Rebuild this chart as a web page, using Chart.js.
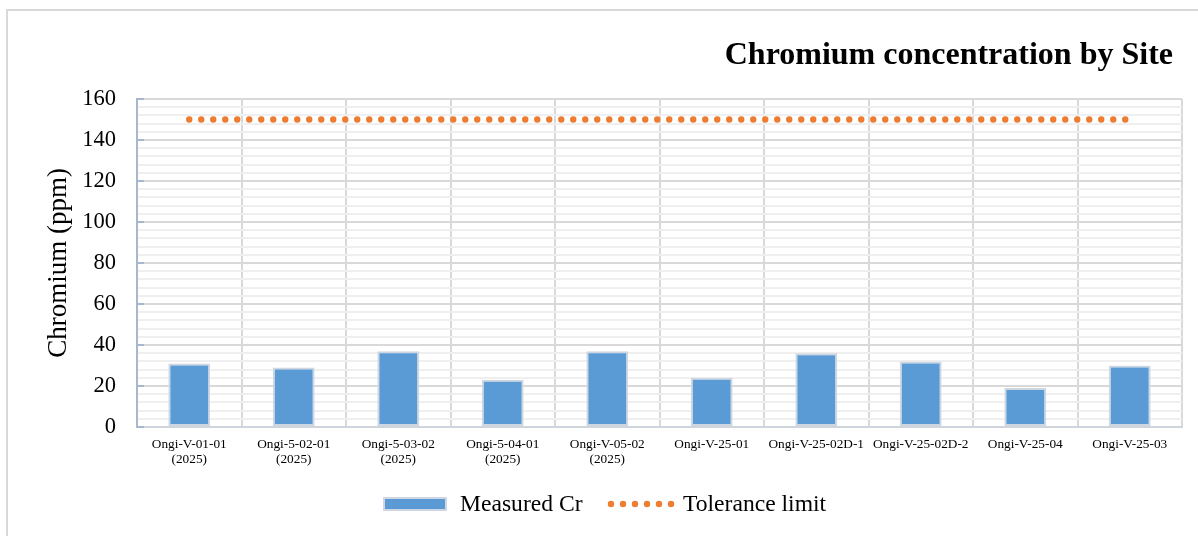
<!DOCTYPE html>
<html>
<head>
<meta charset="utf-8">
<title>Chromium concentration by Site</title>
<script src="https://cdn.jsdelivr.net/npm/chart.js@4.4.1/dist/chart.umd.min.js"></script>
<style>
  html, body { margin: 0; padding: 0; background: #ffffff; overflow: hidden; }
  #frame {
    position: absolute; left: 6px; top: 9px; width: 1300px; height: 600px;
    border: 2px solid #d9d9d9; box-sizing: border-box;
  }
  #wrap { position: absolute; left: 0; top: 0; width: 1198px; height: 536px; }
</style>
</head>
<body>
<div id="frame"></div>
<div id="wrap"><canvas id="chart" width="1198" height="536"></canvas></div>
<script>
// Sampling sites (multi-line labels) and measured chromium values, ppm
const sites = [
  ['Ongi-V-01-01', '(2025)'],
  ['Ongi-5-02-01', '(2025)'],
  ['Ongi-5-03-02', '(2025)'],
  ['Ongi-5-04-01', '(2025)'],
  ['Ongi-V-05-02', '(2025)'],
  'Ongi-V-25-01',
  'Ongi-V-25-02D-1',
  'Ongi-V-25-02D-2',
  'Ongi-V-25-04',
  'Ongi-V-25-03'
];
const measuredCr = [31, 29, 37, 23, 37, 24, 36, 32, 19, 30];
const toleranceLimit = [150, 150, 150, 150, 150, 150, 150, 150, 150, 150];
const yTicks = [0, 20, 40, 60, 80, 100, 120, 140, 160];

const chartTitle = 'Chromium concentration by Site';
const yTitle = 'Chromium (ppm)';
const seriesNames = ['Measured Cr', 'Tolerance limit'];

const SERIF = '"Liberation Serif", "Times New Roman", serif';
const BAR_BLUE = '#5b9bd5';
const BAR_EDGE = '#cdd6e1';
const ORANGE = '#ed7d31';
const AXIS_BLUE = '#a7b7cc';

// Title, inward major tick marks on the y axis, and the legend
const decorations = {
  id: 'decorations',
  afterDraw(chart) {
    const { ctx, chartArea, scales } = chart;
    const y = scales.y;
    ctx.save();

    // inward tick marks at labelled values
    ctx.strokeStyle = AXIS_BLUE;
    ctx.lineWidth = 2;
    yTicks.forEach(v => {
      const py = Math.round(y.getPixelForValue(v));
      ctx.beginPath();
      ctx.moveTo(chartArea.left, py);
      ctx.lineTo(chartArea.left + 7, py);
      ctx.stroke();
    });

    // title
    ctx.fillStyle = '#000000';
    ctx.font = 'bold 32px ' + SERIF;
    ctx.textAlign = 'right';
    ctx.textBaseline = 'middle';
    ctx.fillText(chartTitle, 1173, 56);

    // legend
    const ly = 504;
    const barDs = chart.data.datasets[0];
    const lineDs = chart.data.datasets[1];
    ctx.fillStyle = barDs.backgroundColor;
    ctx.strokeStyle = barDs.borderColor;
    ctx.lineWidth = 2;
    ctx.fillRect(384, ly - 6, 62, 12);
    ctx.strokeRect(384, ly - 6, 62, 12);
    ctx.fillStyle = '#000000';
    ctx.font = '23.6px ' + SERIF;
    ctx.textAlign = 'left';
    ctx.fillText(barDs.label, 460, ly + 1);

    ctx.fillStyle = lineDs.borderColor;
    for (let i = 0; i < 6; i++) {
      ctx.beginPath();
      ctx.arc(611 + i * 12, ly, 3.2, 0, Math.PI * 2);
      ctx.fill();
    }
    ctx.fillStyle = '#000000';
    ctx.fillText(lineDs.label, 683, ly + 1);

    ctx.restore();
  }
};

new Chart(document.getElementById('chart'), {
  type: 'bar',
  data: {
    labels: sites,
    datasets: [
      {
        type: 'bar',
        label: seriesNames[0],
        data: measuredCr,
        backgroundColor: BAR_BLUE,
        borderColor: BAR_EDGE,
        borderWidth: 2,
        borderSkipped: false,
        barPercentage: 0.4,
        categoryPercentage: 1.0,
        order: 2
      },
      {
        type: 'line',
        label: seriesNames[1],
        data: toleranceLimit,
        borderColor: ORANGE,
        backgroundColor: ORANGE,
        borderWidth: 6.4,
        borderDash: [0, 12],
        borderCapStyle: 'round',
        pointRadius: 0,
        fill: false,
        order: 1
      }
    ]
  },
  options: {
    responsive: false,
    animation: false,
    devicePixelRatio: 1,
    layout: { padding: { left: 0, right: 16, top: 99, bottom: 59 } },
    plugins: {
      legend: { display: false },
      title: { display: false },
      tooltip: { enabled: false }
    },
    scales: {
      x: {
        offset: true,
        grid: {
          offset: true,
          color: '#d9d9d9',
          lineWidth: 2,
          drawTicks: false
        },
        border: { color: '#cfd5dd', width: 2 },
        ticks: {
          color: '#000000',
          font: { family: SERIF, size: 13.3, lineHeight: 1.12 },
          padding: 10,
          maxRotation: 0,
          autoSkip: false
        },
        afterFit(scale) { scale.height = 50; }
      },
      y: {
        min: 0,
        max: 160,
        ticks: {
          stepSize: 4,
          color: '#000000',
          font: { family: SERIF, size: 22.5 },
          padding: 21,
          autoSkip: false,
          callback: v => (yTicks.includes(v) ? String(v) : '')
        },
        grid: {
          drawTicks: false,
          color: ctx => (ctx.tick && yTicks.includes(ctx.tick.value) ? '#d9d9d9' : '#efefef'),
          lineWidth: 2
        },
        border: { color: AXIS_BLUE, width: 2 },
        title: {
          display: true,
          text: yTitle,
          color: '#000000',
          font: { family: SERIF, size: 27 },
          padding: { top: 43, bottom: 0 }
        },
        afterFit(scale) { scale.width = 137; }
      }
    }
  },
  plugins: [decorations]
});
</script>
</body>
</html>
